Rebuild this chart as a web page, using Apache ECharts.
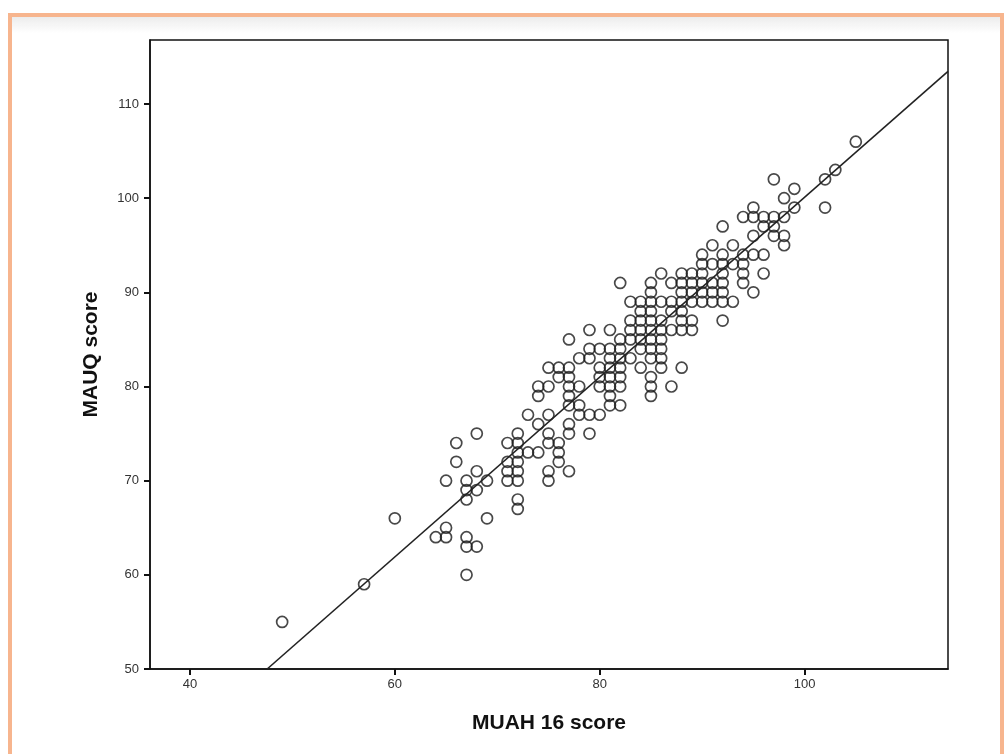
<!DOCTYPE html>
<html>
<head>
<meta charset="utf-8">
<script src="https://cdn.jsdelivr.net/npm/echarts@6/dist/echarts.min.js"></script>
<style>
  html, body { margin: 0; padding: 0; background: #fff; }
  #chart { position: absolute; left: 0; top: 0; width: 1005px; height: 754px; }
  .frame {
    position: absolute; left: 8px; top: 13px; width: 988px; height: 800px;
    border: 4px solid #f7b58e; border-bottom: none;
    background: linear-gradient(#ececec, rgba(255,255,255,0) 16px);
    pointer-events: none;
  }
</style>
</head>
<body>
<div id="chart"></div>
<div class="frame"></div>
<script>
// MUAH 16 score values, and the MAUQ scores seen at each of them
const muahValues = [49, 57, 60, 64, 65, 66, 67, 68, 69, 71, 72, 73, 74, 75, 76, 77, 78, 79, 80,
  81, 82, 83, 84, 85, 86, 87, 88, 89, 90, 91, 92, 93, 94, 95, 96, 97, 98, 99, 102, 103, 105];
const mauqByMuah = [
  [55], [59], [66], [64], [70, 65, 64], [74, 72], [70, 69, 68, 64, 63, 60], [75, 71, 69, 63],
  [70, 66], [74, 72, 71, 70], [75, 74, 73, 72, 71, 70, 68, 67], [77, 73], [80, 79, 76, 73],
  [82, 80, 77, 75, 74, 71, 70], [82, 81, 74, 73, 72], [85, 82, 81, 80, 79, 78, 76, 75, 71],
  [83, 80, 78, 77], [86, 84, 83, 77, 75], [84, 82, 81, 80, 77],
  [86, 84, 83, 82, 81, 80, 79, 78], [91, 85, 84, 83, 82, 81, 80, 78], [89, 87, 86, 85, 83],
  [89, 88, 87, 86, 85, 84, 82], [91, 90, 89, 88, 87, 86, 85, 84, 83, 81, 80, 79],
  [92, 89, 87, 86, 85, 84, 83, 82], [91, 89, 88, 86, 80], [92, 91, 90, 89, 88, 87, 86, 82],
  [92, 91, 90, 89, 87, 86], [94, 93, 92, 91, 90, 89], [95, 93, 91, 90, 89],
  [97, 94, 93, 92, 91, 90, 89, 87], [95, 93, 89], [98, 94, 93, 92, 91], [99, 98, 96, 94, 90],
  [98, 97, 94, 92], [102, 98, 97, 96], [100, 98, 96, 95], [101, 99], [102, 99], [103], [106]
];
// fitted line
const fitIntercept = 4.6;
const fitSlope = 0.955;
const xTicks = [40, 60, 80, 100];
const yTicks = [50, 60, 70, 80, 90, 100, 110];

const xMin = 36.1, xMax = 114, yMin = 50, yMax = 116.8;

let points = [];
muahValues.forEach(function (x, i) {
  mauqByMuah[i].forEach(function (y) { points.push([x, y]); });
});
let lineStart = (yMin - fitIntercept) / fitSlope;
let fitLine = [
  [lineStart, yMin],
  [xMax, fitIntercept + fitSlope * xMax]
];

let chart = echarts.init(document.getElementById('chart'));
chart.setOption({
  backgroundColor: '#fff',
  animation: false,
  grid: {
    left: 150, right: 57, top: 40, bottom: 85,
    show: true, borderColor: '#111', borderWidth: 1.5, backgroundColor: '#fff'
  },
  xAxis: {
    type: 'value', min: xMin, max: xMax,
    name: 'MUAH 16 score', nameLocation: 'middle', nameGap: 44,
    nameTextStyle: { fontFamily: 'Liberation Sans', fontWeight: 'bold', fontSize: 21, color: '#111' },
    axisLine: { lineStyle: { color: '#111', width: 1.5 } },
    axisTick: { inside: false, length: 6, lineStyle: { color: '#111', width: 2 }, customValues: xTicks },
    axisLabel: { customValues: xTicks, margin: 9, fontFamily: 'Liberation Sans', fontSize: 13, color: '#333' },
    splitLine: { show: false }
  },
  yAxis: {
    type: 'value', min: yMin, max: yMax,
    name: 'MAUQ score', nameLocation: 'middle', nameGap: 48,
    nameTextStyle: { fontFamily: 'Liberation Sans', fontWeight: 'bold', fontSize: 21, color: '#111' },
    axisLine: { lineStyle: { color: '#111', width: 1.5 } },
    axisTick: { inside: false, length: 6, lineStyle: { color: '#111', width: 2 }, customValues: yTicks },
    axisLabel: { customValues: yTicks, margin: 11, fontFamily: 'Liberation Sans', fontSize: 13, color: '#333' },
    splitLine: { show: false }
  },
  series: [
    {
      type: 'scatter',
      data: points,
      symbol: 'circle',
      symbolSize: 11,
      itemStyle: { color: 'rgba(0,0,0,0)', borderColor: '#1a1a1a', borderWidth: 1.7 }
    },
    {
      type: 'line',
      data: fitLine,
      symbol: 'none',
      clip: true,
      lineStyle: { color: '#222', width: 1.6 }
    }
  ]
});
</script>
</body>
</html>
